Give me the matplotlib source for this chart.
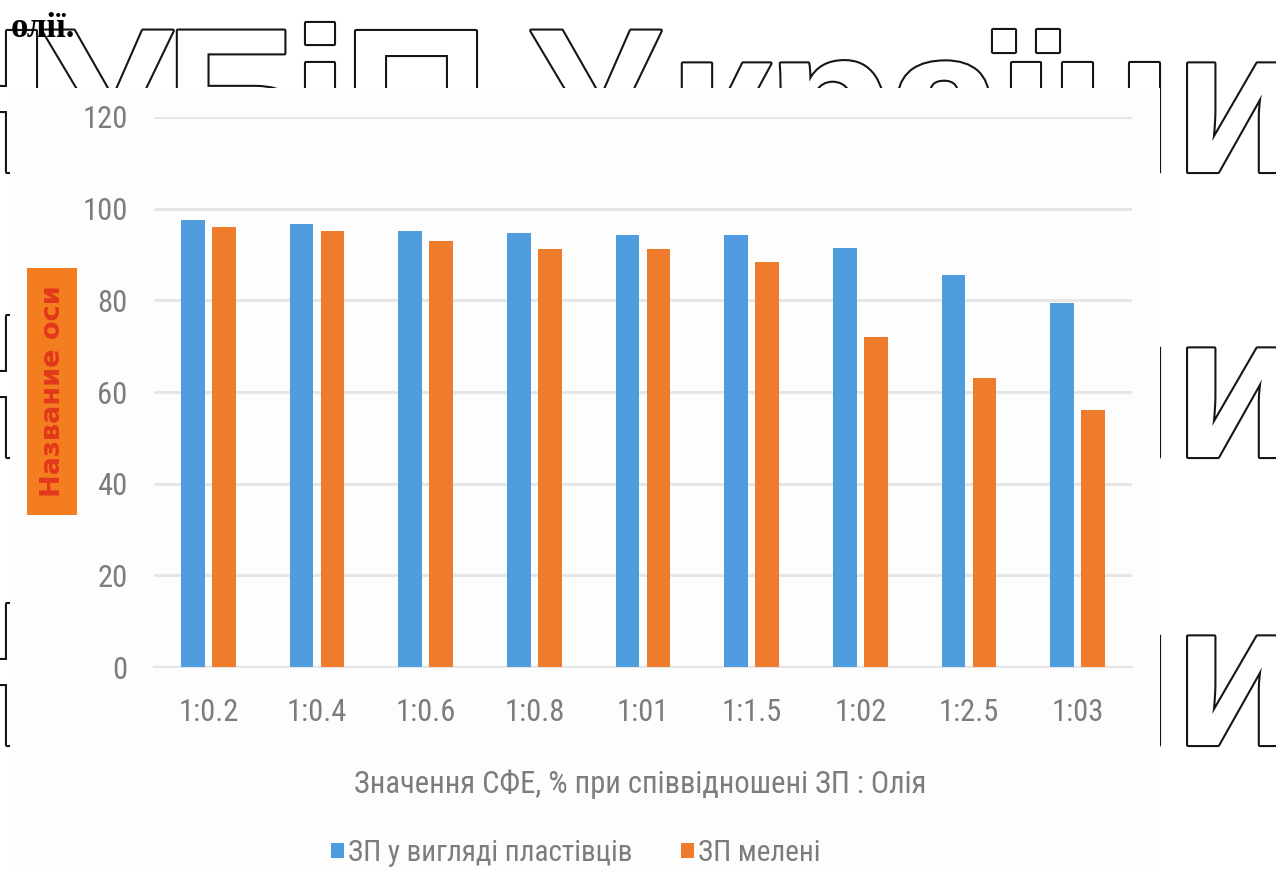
import matplotlib
matplotlib.use('Agg')
import matplotlib.pyplot as plt
import numpy as np
from matplotlib import font_manager as fm
from matplotlib import patheffects as pe
from matplotlib.patches import Rectangle

# ---- data -------------------------------------------------------------
ratios = ['1:0.2', '1:0.4', '1:0.6', '1:0.8', '1:01', '1:1.5', '1:02', '1:2.5', '1:03']
flakes = [97.5, 96.7, 95.1, 94.6, 94.2, 94.2, 91.4, 85.5, 79.4]
ground = [95.9, 95.1, 92.9, 91.3, 91.2, 88.4, 71.9, 63.1, 56.1]
series_names = ['ЗП у вигляді пластівців', 'ЗП мелені']
x_title = 'Значення СФЕ, % при співвідношені ЗП : Олія'
y_title = 'Название оси'
y_ticks = [0, 20, 40, 60, 80, 100, 120]
watermark = 'НУБіП України'
heading_tail = 'олії.'

# ---- helpers ----------------------------------------------------------
W, H = 1276, 871


def fx(px):
    return px / W


def fy(py):
    return 1 - py / H


def pick_font(*names):
    for name in names:
        try:
            fm.findfont(fm.FontProperties(family=name), fallback_to_default=False)
            return name
        except ValueError:
            continue
    return 'DejaVu Sans'


chart_font = pick_font('Liberation Sans Narrow', 'Roboto Condensed', 'DejaVu Sans Condensed', 'Liberation Sans')
mark_font = pick_font('Liberation Sans', 'Roboto', 'DejaVu Sans')
serif_font = pick_font('Liberation Serif', 'DejaVu Serif')

blue = '#4f9cde'
orange = '#ef7c2c'
grey_text = '#7c7c7c'

fig = plt.figure(figsize=(W / 100, H / 100), dpi=100)
fig.patch.set_facecolor('white')

# ---- outlined watermark rows behind the chart -------------------------
letter_centres = [-24, 107, 238, 320, 416, None, 595, 720, 830, 945, 1026, 1111, 1237]
row_baselines = [172, 457, 745]
for base in row_baselines:
    for ch, cx in zip(watermark, letter_centres):
        if cx is None or ch == ' ':
            continue
        fig.text(fx(cx), fy(base), ch, ha='center', va='baseline',
                 fontsize=148, fontweight='bold', family=mark_font,
                 color='white', zorder=1,
                 path_effects=[pe.withStroke(linewidth=3, foreground='#151515')])

# chart sheet covering the watermark
fig.add_artist(Rectangle((fx(10), 0), fx(1160) - fx(10), fy(88),
                         transform=fig.transFigure, facecolor='#fdfdfd',
                         edgecolor='none', zorder=2))

# fragment of the document text above
fig.text(fx(11), fy(37), heading_tail, ha='left', va='baseline', fontsize=25,
         fontweight='bold', family=serif_font, color='black', zorder=6)

# ---- bar chart --------------------------------------------------------
ax = fig.add_axes([fx(154), fy(667), fx(1132) - fx(154), (667 - 117) / H])
ax.set_zorder(3)
ax.patch.set_alpha(0)

x = np.arange(len(ratios))
bar_w = 0.22
offset = 0.1425
b1 = ax.bar(x - offset, flakes, bar_w, color=blue, label=series_names[0], zorder=3)
b2 = ax.bar(x + offset, ground, bar_w, color=orange, label=series_names[1], zorder=3)

ax.set_xlim(-0.5, len(ratios) - 0.5)
ax.set_ylim(0, 120)
ax.set_yticks(y_ticks)
ax.set_xticks(x)
ax.set_xticklabels(ratios)
ax.yaxis.grid(True, color='#e6e6e6', linewidth=2.2)
ax.set_axisbelow(True)
for side in ['top', 'right', 'left']:
    ax.spines[side].set_visible(False)
ax.spines['bottom'].set_color('#e6e6e6')
ax.spines['bottom'].set_linewidth(1.5)

ax.tick_params(axis='both', length=0, labelsize=22, labelcolor=grey_text)
ax.tick_params(axis='y', pad=19)
ax.tick_params(axis='x', pad=22)
for lab in ax.get_xticklabels() + ax.get_yticklabels():
    lab.set_family(chart_font)

# axis titles
fig.text(fx(640), fy(784), x_title, ha='center', va='center', fontsize=22,
         family=chart_font, color=grey_text, zorder=5)

fig.add_artist(Rectangle((fx(27), fy(515)), fx(77) - fx(27), (515 - 268) / H,
                         transform=fig.transFigure, facecolor='#f47d1f',
                         edgecolor='none', zorder=4))
fig.text(fx(53), fy(391), y_title, ha='center', va='center', rotation=90,
         fontsize=19.5, fontweight='bold', family='DejaVu Sans',
         color='#e2381b', zorder=5)

# legend
leg = fig.legend(handles=[b1, b2], labels=series_names, loc='center',
                 bbox_to_anchor=(fx(576), fy(853)), ncol=2, frameon=False,
                 handlelength=0.45, handleheight=0.45, handletextpad=0.15,
                 columnspacing=1.65, prop={'family': chart_font, 'size': 21})
leg.set_zorder(5)
for t in leg.get_texts():
    t.set_color(grey_text)

fig.savefig('out.png', dpi=100, facecolor='white')
